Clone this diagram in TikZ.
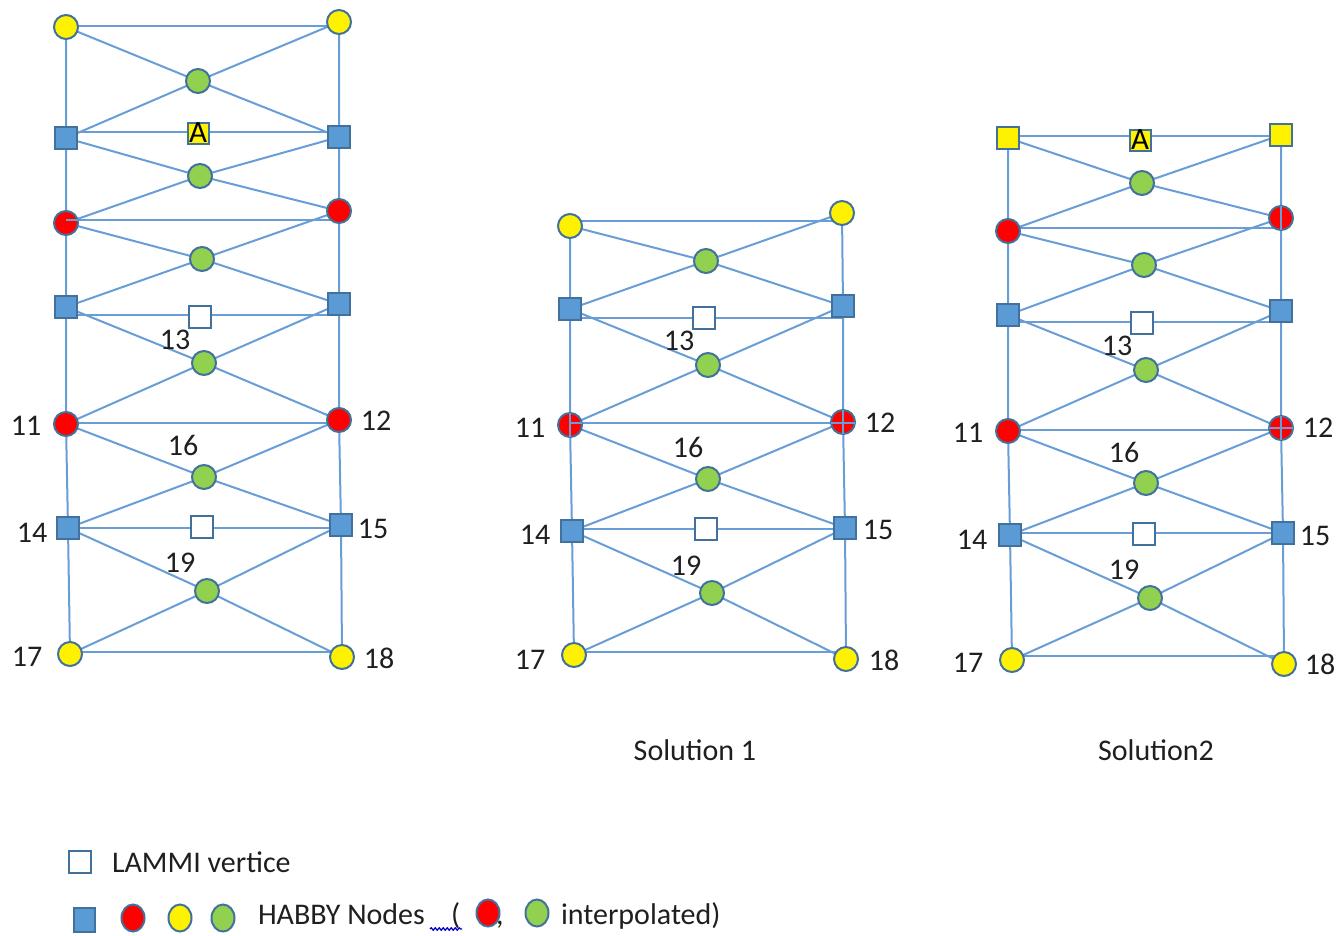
\documentclass[tikz,border=0pt]{standalone}
\usepackage{fontspec}
\setmainfont{Carlito}
\usetikzlibrary{decorations.pathmorphing,shapes.geometric}
\definecolor{edgeblue}{RGB}{104,157,214}
\definecolor{bordblue}{RGB}{65,113,156}
\definecolor{sqblue}{RGB}{91,155,213}
\definecolor{ngreen}{RGB}{146,208,80}
\pgfdeclarelayer{bg}
\pgfsetlayers{bg,main}
\begin{document}
\begin{tikzpicture}[x=1pt,y=-1pt,
  every node/.style={inner sep=0pt, outer sep=0pt},
  dot/.style={circle, draw=bordblue, line width=2pt, minimum size=24pt},
  yeldot/.style={dot, fill=yellow},
  reddot/.style={dot, fill=red},
  grndot/.style={dot, fill=ngreen},
  hsq/.style={rectangle, draw=bordblue, line width=2pt, fill=sqblue, minimum size=22pt},
  ysq/.style={rectangle, draw=bordblue, line width=2pt, fill=yellow, minimum size=22pt},
  lsq/.style={rectangle, draw=bordblue, line width=2pt, fill=white, minimum size=22pt},
  asq/.style={rectangle, draw=bordblue, line width=2pt, fill=yellow, minimum size=21pt, font=\fontsize{31}{31}\selectfont},
  link/.style={draw=edgeblue, line width=2pt},
  lab/.style={font=\fontsize{30}{36}\selectfont, text=black!88},
  lgdot/.style={ellipse, draw=bordblue, line width=2pt, minimum width=23pt, minimum height=27pt},
]
\useasboundingbox (0,0) rectangle (1337,935);

% ---------------- left column ----------------
\node[yeldot] (a1) at (66,27) {};
\node[yeldot] (a2) at (339,22) {};
\node[grndot] (ag1) at (198,81) {};
\node[hsq] (a3) at (66,138) {};
\node[hsq] (a4) at (339,137) {};
\node[asq] (aA) at (198,133) {A};
\node[grndot] (ag2) at (200,176) {};
\node[reddot] (a5) at (66,223) {};
\node[reddot] (a6) at (339,211) {};
\node[grndot] (ag3) at (202,259) {};
\node[hsq] (a7) at (66,307) {};
\node[hsq] (a8) at (339,304) {};
\node[lsq] (ao1) at (200,317) {};
\node[grndot] (ag4) at (204,363) {};
\node[reddot] (a11) at (66,424) {};
\node[reddot] (a12) at (339,420) {};
\node[grndot] (ag5) at (204,477) {};
\node[hsq] (a14) at (68,528) {};
\node[hsq] (a15) at (341,525) {};
\node[lsq] (ao2) at (202,527) {};
\node[grndot] (ag6) at (207,591) {};
\node[yeldot] (a17) at (70,654) {};
\node[yeldot] (a18) at (342,657) {};

\node[lab] (al13) at (175,340) {13};
\node[lab] (al11) at (26,426) {11};
\node[lab] (al12) at (376,421) {12};
\node[lab] (al16) at (183,445) {16};
\node[lab] (al14) at (32,533) {14};
\node[lab] (al15) at (373,529) {15};
\node[lab] (al19) at (180,563) {19};
\node[lab] (al17) at (27,657) {17};
\node[lab] (al18) at (379,658) {18};

% ---------------- solution 1 ----------------
\node[yeldot] (b1) at (570,226) {};
\node[yeldot] (b2) at (842,213) {};
\node[grndot] (bg1) at (706,261) {};
\node[hsq] (b7) at (570,309) {};
\node[hsq] (b8) at (843,306) {};
\node[lsq] (bo1) at (704,318) {};
\node[grndot] (bg4) at (708,365) {};
\node[reddot] (b11) at (570,425) {};
\node[reddot] (b12) at (843,422) {};
\node[grndot] (bg5) at (708,479) {};
\node[hsq] (b14) at (572,531) {};
\node[hsq] (b15) at (845,528) {};
\node[lsq] (bo2) at (706,529) {};
\node[grndot] (bg6) at (712,593) {};
\node[yeldot] (b17) at (574,655) {};
\node[yeldot] (b18) at (846,659) {};

\node[lab] (bl13) at (679,341) {13};
\node[lab] (bl11) at (530,428) {11};
\node[lab] (bl12) at (880,423) {12};
\node[lab] (bl16) at (688,447) {16};
\node[lab] (bl14) at (535,535) {14};
\node[lab] (bl15) at (878,530) {15};
\node[lab] (bl19) at (686,566) {19};
\node[lab] (bl17) at (530,660) {17};
\node[lab] (bl18) at (884,660) {18};
\node[lab] (bsol) at (695,750) {Solution 1};

% ---------------- solution 2 ----------------
\node[ysq] (c3) at (1008,138) {};
\node[ysq] (c4) at (1281,135) {};
\node[asq] (cA) at (1140,140) {A};
\node[grndot] (cg2) at (1142,183) {};
\node[reddot] (c5) at (1008,231) {};
\node[reddot] (c6) at (1281,218) {};
\node[grndot] (cg3) at (1144,265) {};
\node[hsq] (c7) at (1008,315) {};
\node[hsq] (c8) at (1281,311) {};
\node[lsq] (co1) at (1142,323) {};
\node[grndot] (cg4) at (1146,370) {};
\node[reddot] (c11) at (1008,431) {};
\node[reddot] (c12) at (1281,428) {};
\node[grndot] (cg5) at (1146,483) {};
\node[hsq] (c14) at (1010,535) {};
\node[hsq] (c15) at (1283,533) {};
\node[lsq] (co2) at (1144,534) {};
\node[grndot] (cg6) at (1150,598) {};
\node[yeldot] (c17) at (1012,660) {};
\node[yeldot] (c18) at (1284,664) {};

\node[lab] (cl13) at (1117,346) {13};
\node[lab] (cl11) at (968,433) {11};
\node[lab] (cl12) at (1318,428) {12};
\node[lab] (cl16) at (1124,452) {16};
\node[lab] (cl14) at (972,540) {14};
\node[lab] (cl15) at (1315,536) {15};
\node[lab] (cl19) at (1124,570) {19};
\node[lab] (cl17) at (968,663) {17};
\node[lab] (cl18) at (1320,664) {18};
\node[lab] (csol) at (1156,750) {Solution2};

% ---------------- edges (behind nodes) ----------------
\begin{pgfonlayer}{bg}
  % verticals
  \draw[link] (a1.center) -- (a3.center) -- (a5.center) -- (a7.center) -- (a11.center) -- (a14.center) -- (a17.center);
  \draw[link] (a2.center) -- (a4.center) -- (a6.center) -- (a8.center) -- (a12.center) -- (a15.center) -- (a18.center);
  \draw[link] (b1.center) -- (b7.center) -- (b11.center) -- (b14.center) -- (b17.center);
  \draw[link] (b2.center) -- (b8.center) -- (b12.center) -- (b15.center) -- (b18.center);
  \draw[link] (c3.center) -- (c5.center) -- (c7.center) -- (c11.center) -- (c14.center) -- (c17.center);
  \draw[link] (c4.center) -- (c6.center) -- (c8.center) -- (c12.center) -- (c15.center) -- (c18.center);
  % horizontals (drawn level, at the height of the left node, raised by s)
  \foreach \l/\r/\s in {a1/a2/1, a3/a4/6, a5/a6/3, a7/a8/-8, a11/a12/1, a14/a15/0, a17/a18/2,
                        b1/b2/5, b7/b8/-9, b11/b12/2, b14/b15/2, b17/b18/3,
                        c3/c4/2, c5/c6/3, c7/c8/-7, c11/c12/1, c14/c15/2, c17/c18/4}
    \draw[link] ([yshift=\s pt]\l.center) -- ([yshift=\s pt]\l.center -| \r.center);
  % diagonals through the interpolated nodes
  \foreach \tl/\tr/\g/\bl/\br in {a1/a2/ag1/a3/a4, a3/a4/ag2/a5/a6, a5/a6/ag3/a7/a8,
                                  a7/a8/ag4/a11/a12, a11/a12/ag5/a14/a15, a14/a15/ag6/a17/a18,
                                  b1/b2/bg1/b7/b8, b7/b8/bg4/b11/b12, b11/b12/bg5/b14/b15, b14/b15/bg6/b17/b18,
                                  c3/c4/cg2/c5/c6, c5/c6/cg3/c7/c8, c7/c8/cg4/c11/c12,
                                  c11/c12/cg5/c14/c15, c14/c15/cg6/c17/c18}
    \draw[link] (\tl.center) -- (\g.center) -- (\br.center)
                (\tr.center) -- (\g.center) -- (\bl.center);
\end{pgfonlayer}

% a few connector strokes that pass over the red nodes, as in the source
\draw[link] ([yshift=3pt]a5.center) -- ([yshift=3pt]a5.east);
\draw[link] (b11.north) -- (b11.south);
\draw[link] (b12.north) -- (b12.south);
\draw[link] ([yshift=2pt]b11.center) -- ([yshift=2pt]b11.east);
\draw[link] ([yshift=-1pt]b12.west) -- ([yshift=-1pt]b12.east);
\draw[link] (c6.north) -- (c6.south);
\draw[link] (c12.north) -- (c12.south);
\draw[link] (c12.west) -- (c12.east);

% ---------------- legend ----------------
\node[lsq] (lg1) at (80,862) {};
\node[lab, anchor=base west] (lgt1) at (112,872) {LAMMI vertice};
\node[hsq, minimum width=21pt, minimum height=24pt] (lg2) at (84,920) {};
\node[lgdot, fill=red] (lg3) at (133,918) {};
\node[lgdot, fill=yellow] (lg4) at (180,918) {};
\node[lgdot, fill=ngreen] (lg5) at (223,918) {};
\node[lab, anchor=base west] (lgt2) at (258,924) {HABBY Nodes};
\node[lab, anchor=base west] (lgt3) at (451,924) {(};
\coordinate (sq1) at (430,929);
\coordinate (sq2) at (462,929);
\draw[draw=blue!80!black, line width=1.3pt, decorate, decoration={snake, amplitude=1.2pt, segment length=4pt}] (sq1) -- (sq2);
\node[lab, anchor=base west] (lgt4) at (496,924) {,};
\node[lgdot, fill=red] (lg6) at (488,913) {};
\node[lgdot, fill=ngreen] (lg7) at (537,913) {};
\node[lab, anchor=base west] (lgt5) at (561,924) {interpolated)};
\end{tikzpicture}
\end{document}
